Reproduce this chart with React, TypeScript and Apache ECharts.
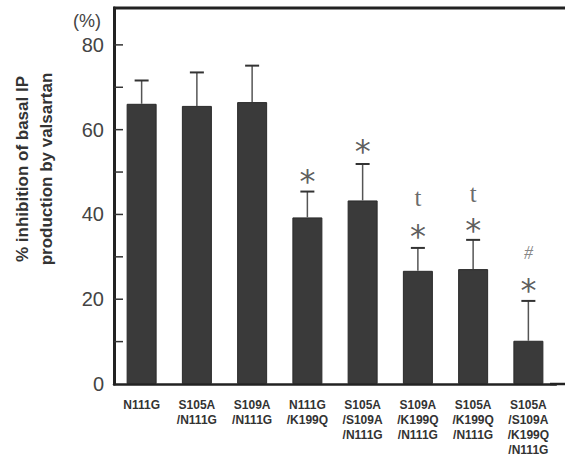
import React, { useEffect, useRef } from "react";
import * as echarts from "echarts";

const categories = [
  "N111G",
  "S105A\n/N111G",
  "S109A\n/N111G",
  "N111G\n/K199Q",
  "S105A\n/S109A\n/N111G",
  "S109A\n/K199Q\n/N111G",
  "S105A\n/K199Q\n/N111G",
  "S105A\n/S109A\n/K199Q\n/N111G",
];
const values = [66.1, 65.6, 66.5, 39.3, 43.3, 26.7, 27.1, 10.2];
const errorTops = [71.6, 73.5, 75.1, 45.4, 51.9, 32.1, 34.0, 19.6];

// significance marks: [category index, y value]
const starMarks: [number, number][] = [
  [3, 49.8],
  [4, 56.9],
  [5, 36.8],
  [6, 38.2],
  [7, 24.1],
];
const daggerMarks: [number, number][] = [
  [5, 44.0],
  [6, 45.0],
];
const hashMarks: [number, number][] = [[7, 30.9]];

const yTickValues = [10, 20, 30, 40, 50, 60, 70, 80];
const yMin = 0;
const yMax = 88.7;
const yInterval = 10;

export default function App() {
  const ref = useRef<HTMLDivElement>(null);
  useEffect(() => {
    if (!ref.current) return;
    const chart = echarts.init(ref.current, null, { renderer: "svg" });
    const gridLeft = 114;
    const gridTop = 8;
    const gridRight = 9;
    const gridBottom = 79;
    const baseGraphic: any[] = [
      {
        type: "line",
        shape: { x1: gridLeft - 1, y1: gridTop, x2: 565, y2: gridTop },
        style: { stroke: "#222", lineWidth: 3 },
      },
      {
        type: "line",
        shape: { x1: 550, y1: 384, x2: 565, y2: 384 },
        style: { stroke: "#222", lineWidth: 2.5 },
      },
      {
        type: "text",
        x: 87,
        y: 21,
        style: {
          text: "(%)",
          fontFamily: "Liberation Sans, Arial, sans-serif",
          fontSize: 18,
          fill: "#444",
          textAlign: "center",
          textVerticalAlign: "middle",
        },
      },
      {
        type: "text",
        x: 34,
        y: 169,
        rotation: Math.PI / 2,
        style: {
          text: "% inhibition of basal IP\nproduction by valsartan",
          fontFamily: "Liberation Sans, Arial, sans-serif",
          fontWeight: "bold",
          fontSize: 17,
          lineHeight: 24,
          fill: "#333",
          textAlign: "center",
          textVerticalAlign: "middle",
        },
      },
    ];
    chart.setOption({
      animation: false,
      backgroundColor: "#ffffff",
      grid: { left: gridLeft, top: gridTop, right: gridRight, bottom: gridBottom },
      xAxis: {
        type: "category",
        data: categories,
        axisLine: { show: true, lineStyle: { color: "#222", width: 2.5 } },
        axisTick: { show: false },
        axisLabel: {
          interval: 0,
          margin: 13,
          fontFamily: "Liberation Sans, Arial, sans-serif",
          fontWeight: "bold",
          fontSize: 12,
          lineHeight: 15,
          color: "#333",
        },
      },
      yAxis: {
        type: "value",
        min: yMin,
        max: yMax,
        interval: yInterval,
        splitLine: { show: false },
        axisLine: { show: true, lineStyle: { color: "#222", width: 3 } },
        axisTick: { show: false },
        axisLabel: {
          margin: 10,
          fontFamily: "Liberation Sans, Arial, sans-serif",
          fontSize: 20,
          color: "#444",
          showMaxLabel: false,
          formatter: (v: number) => (Math.abs(v % 20) < 1e-6 ? String(v) : ""),
        },
      },
      graphic: baseGraphic,
      series: [
        {
          type: "bar",
          data: values,
          barWidth: 30,
          itemStyle: { color: "#3a3a3a", borderColor: "#2a2a2a", borderWidth: 1 },
          z: 2,
        },
        {
          type: "custom",
          data: values.map((v, i) => [i, v, errorTops[i]]),
          z: 3,
          renderItem: (params: any, api: any) => {
            const i = api.value(0);
            const top = api.coord([i, api.value(2)]);
            const base = api.coord([i, api.value(1)]);
            return {
              type: "group",
              children: [
                {
                  type: "line",
                  shape: { x1: top[0], y1: top[1], x2: base[0], y2: base[1] },
                  style: { stroke: "#555", lineWidth: 1.5 },
                },
                {
                  type: "line",
                  shape: { x1: top[0] - 7, y1: top[1], x2: top[0] + 7, y2: top[1] },
                  style: { stroke: "#333", lineWidth: 2 },
                },
              ],
            };
          },
        },
        {
          type: "scatter",
          symbolSize: 0,
          silent: true,
          z: 4,
          data: starMarks.map((m) => m),
          label: {
            show: true,
            position: "inside",
            formatter: "*",
            fontFamily: "DejaVu Sans, sans-serif",
            fontSize: 32,
            color: "#333",
            offset: [0, 8],
          },
        },
        {
          type: "scatter",
          symbolSize: 0,
          silent: true,
          z: 4,
          data: daggerMarks.map((m) => m),
          label: {
            show: true,
            position: "inside",
            formatter: "t",
            fontFamily: "Liberation Serif, serif",
            fontSize: 25,
            color: "#444",
          },
        },
        {
          type: "scatter",
          symbolSize: 0,
          silent: true,
          z: 4,
          data: hashMarks.map((m) => m),
          label: {
            show: true,
            position: "inside",
            formatter: "#",
            fontFamily: "Liberation Serif, serif",
            fontStyle: "italic",
            fontSize: 18,
            color: "#666",
          },
        },
      ],
    });
    // y-axis inner ticks placed through the axis scale
    const tickGraphics = yTickValues.map((v) => {
      const y = chart.convertToPixel({ yAxisIndex: 0 }, v) as number;
      return {
        type: "line",
        z: 100,
        shape: { x1: gridLeft, y1: y, x2: gridLeft + 9, y2: y },
        style: { stroke: "#333", lineWidth: 1.5 },
      };
    });
    chart.setOption({ graphic: [...baseGraphic, ...tickGraphics] });
    return () => chart.dispose();
  }, []);
  return <div ref={ref} style={{ width: 565, height: 463, position: "absolute", left: 0, top: 0 }} />;
}
